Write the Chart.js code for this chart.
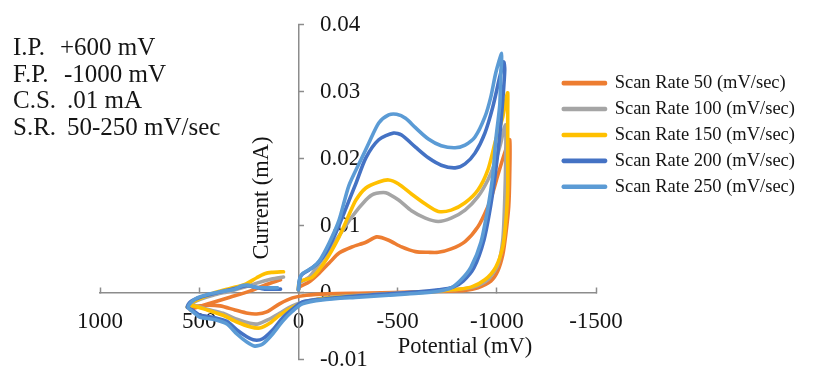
<!DOCTYPE html>
<html>
<head>
<meta charset="utf-8">
<script src="https://cdn.jsdelivr.net/npm/chart.js@4/dist/chart.umd.min.js"></script>
<style>
html,body{margin:0;padding:0;background:#ffffff;}
#wrap{width:815px;height:367px;position:relative;}
</style>
</head>
<body>
<div id="wrap"><canvas id="c"></canvas></div>
<script>
// ---------------- data (potential in mV, current in mA) ----------------
const seriesLabels = ['Scan Rate 50 (mV/sec)', 'Scan Rate 100 (mV/sec)', 'Scan Rate 150 (mV/sec)', 'Scan Rate 200 (mV/sec)', 'Scan Rate 250 (mV/sec)'];
const seriesColors = ['#ED7D31', '#A5A5A5', '#FFC000', '#4472C4', '#5B9BD5'];
const xTickValues = [1000, 500, 0, -500, -1000, -1500];
const yTickValues = [0.04, 0.03, 0.02, 0.01, 0, -0.01];
const noteLabels = ['I.P.', 'F.P.', 'C.S.', 'S.R.'];
const noteValues = ['+600 mV', '-1000 mV', '.01 mA', '50-250 mV/sec'];
const xTitle = 'Potential (mV)';
const yTitle = 'Current (mA)';

const pot50 = [90, 170, 245, 345, 445, 520, 545, 535, 470, 395, 320, 255, 210, 160, 95, 30, -40, -155, -355, -605, -755, -840, -905, -970, -1005, -1030, -1045, -1060, -1065, -1065, -1045, -1005, -980, -955, -905, -840, -770, -705, -655, -590, -520, -455, -395, -340, -270, -205, -155, -105, -55, -5, 0];
const cur50 = [0.0019, 0.0011, 0.0002, -0.0007, -0.0016, -0.0023, -0.0026, -0.0022, -0.0019, -0.002, -0.0026, -0.0031, -0.0032, -0.0029, -0.0017, -0.0008, -0.0004, -0.0002, -0.0001, 0.0001, 0.0002, 0.0003, 0.0007, 0.0017, 0.0032, 0.0056, 0.0086, 0.0128, 0.0175, 0.0228, 0.0213, 0.0175, 0.0149, 0.0128, 0.0098, 0.0076, 0.0065, 0.006, 0.006, 0.0061, 0.0068, 0.0078, 0.0083, 0.0075, 0.0068, 0.0059, 0.0044, 0.0029, 0.0016, 0.0008, 0.0004];

const pot100 = [75, 135, 210, 270, 345, 430, 495, 545, 560, 530, 460, 380, 310, 245, 205, 155, 95, 30, -40, -155, -305, -505, -655, -780, -880, -955, -1005, -1030, -1040, -1045, -1045, -1035, -1020, -990, -955, -905, -840, -770, -705, -640, -570, -505, -440, -380, -340, -270, -190, -120, -55, -5, 0];
const cur100 = [0.0023, 0.002, 0.0014, 0.0008, 0.0002, -0.0004, -0.001, -0.0017, -0.0022, -0.0019, -0.0025, -0.0031, -0.004, -0.0046, -0.0047, -0.0041, -0.0031, -0.002, -0.0013, -0.0007, -0.0004, -0.0001, 0.0001, 0.0004, 0.0008, 0.0019, 0.0041, 0.0078, 0.0138, 0.0198, 0.025, 0.0243, 0.0223, 0.0193, 0.0168, 0.0143, 0.0123, 0.0111, 0.0106, 0.0111, 0.0122, 0.0138, 0.0149, 0.0147, 0.0138, 0.0113, 0.0078, 0.0049, 0.0023, 0.0014, 0.0004];

const pot150 = [75, 135, 170, 210, 270, 345, 430, 495, 545, 560, 530, 460, 380, 310, 245, 195, 145, 95, 30, -40, -155, -305, -505, -655, -780, -870, -940, -995, -1030, -1045, -1055, -1055, -1055, -1055, -1045, -1030, -995, -955, -905, -840, -770, -705, -640, -570, -505, -455, -405, -340, -290, -255, -205, -140, -70, -5, 0];
const cur150 = [0.0031, 0.003, 0.0028, 0.0022, 0.0012, 0.0006, -0.0001, -0.0009, -0.0016, -0.0022, -0.002, -0.0026, -0.0034, -0.0044, -0.0051, -0.0053, -0.0046, -0.0034, -0.0022, -0.0014, -0.0008, -0.0005, -0.0002, 0.0001, 0.0004, 0.0008, 0.0019, 0.0038, 0.0068, 0.0104, 0.0153, 0.0213, 0.0272, 0.0298, 0.0287, 0.0262, 0.0228, 0.0183, 0.0153, 0.0134, 0.0123, 0.0121, 0.0132, 0.0147, 0.0162, 0.0168, 0.0165, 0.0156, 0.0138, 0.0116, 0.0083, 0.0049, 0.0023, 0.0016, 0.0004];

const pot200 = [90, 170, 220, 260, 295, 345, 420, 495, 545, 560, 535, 495, 430, 360, 310, 260, 220, 180, 130, 80, 30, -20, -120, -305, -455, -605, -705, -780, -830, -885, -935, -970, -995, -1015, -1030, -1040, -1035, -1015, -980, -940, -890, -840, -790, -720, -655, -590, -520, -480, -405, -340, -290, -240, -190, -140, -95, -55, -15, -5, 0];
const cur200 = [0.0005, 0.0005, 0.0008, 0.001, 0.0008, 0.0004, -0.0001, -0.0007, -0.0014, -0.0022, -0.0026, -0.0034, -0.0037, -0.0043, -0.0056, -0.0066, -0.0071, -0.0069, -0.0056, -0.0038, -0.0025, -0.0014, -0.001, -0.0005, -0.0002, 0.0001, 0.0004, 0.0008, 0.0017, 0.0037, 0.0078, 0.0131, 0.0183, 0.0235, 0.0287, 0.0332, 0.0344, 0.0322, 0.0277, 0.0238, 0.0208, 0.0192, 0.0186, 0.019, 0.0201, 0.0217, 0.0235, 0.0238, 0.0228, 0.0201, 0.0163, 0.0126, 0.009, 0.006, 0.0043, 0.0034, 0.0026, 0.0017, 0.0004];

const pot250 = [105, 170, 220, 255, 285, 320, 395, 470, 510, 545, 555, 535, 495, 430, 360, 310, 260, 220, 180, 130, 80, 30, -20, -120, -305, -455, -605, -705, -770, -820, -870, -920, -955, -980, -995, -1015, -1020, -1025, -995, -970, -940, -890, -840, -790, -720, -655, -590, -540, -495, -455, -405, -355, -320, -255, -205, -155, -105, -70, -20, -5, 0];
const cur250 = [0.0007, 0.0007, 0.0008, 0.0011, 0.001, 0.0005, 0.0001, -0.0004, -0.0008, -0.0016, -0.0023, -0.0028, -0.0037, -0.004, -0.0047, -0.0062, -0.0074, -0.008, -0.0077, -0.0062, -0.0043, -0.0028, -0.0017, -0.0011, -0.0007, -0.0004, -0.0001, 0.0002, 0.0007, 0.0019, 0.0038, 0.0075, 0.0126, 0.0175, 0.0228, 0.028, 0.0325, 0.0357, 0.0328, 0.0292, 0.0262, 0.0232, 0.022, 0.0216, 0.0219, 0.0229, 0.0246, 0.026, 0.0266, 0.0265, 0.0253, 0.0223, 0.0201, 0.016, 0.0108, 0.0074, 0.0047, 0.0037, 0.0028, 0.0019, 0.0004];

const potentials = [pot50, pot100, pot150, pot200, pot250];
const currents = [cur50, cur100, cur150, cur200, cur250];

// ---------------- chart ----------------
const SERIF = '"Liberation Serif", "Times New Roman", Times, serif';
const AXIS_GRAY = '#8c8c8c';
const TEXT = '#151515';

const fmtY = v => String(parseFloat(Number(v).toFixed(3)));

const textPlugin = {
  id: 'textPlugin',
  beforeDatasetsDraw(chart) {
    const ctx = chart.ctx;
    const xs = chart.scales.x, ys = chart.scales.y;
    ctx.save();
    ctx.fillStyle = TEXT;
    // y tick labels (right of the axis line)
    ctx.font = '23px ' + SERIF;
    ctx.textAlign = 'left';
    ctx.textBaseline = 'middle';
    const ax = xs.getPixelForValue(0);
    ys.ticks.forEach(t => ctx.fillText(fmtY(t.value), ax + 21.5, ys.getPixelForValue(t.value)));
    // axis titles
    ctx.font = '22.5px ' + SERIF;
    ctx.textAlign = 'center';
    ctx.textBaseline = 'alphabetic';
    ctx.fillText(xTitle, 465, 353);
    ctx.save();
    ctx.translate(262, 198);
    ctx.rotate(-Math.PI / 2);
    ctx.textBaseline = 'middle';
    ctx.fillText(yTitle, 0, 0);
    ctx.restore();
    // notes block
    ctx.font = '25px ' + SERIF;
    ctx.textAlign = 'left';
    const valX = [60, 64, 67, 67];
    const base = [55, 82, 108, 135];
    noteLabels.forEach((l, i) => {
      ctx.fillText(l, 13, base[i]);
      ctx.fillText(noteValues[i], valX[i], base[i]);
    });
    ctx.restore();
  },
  afterLayout(chart) {
    const L = chart.legend;
    if (L) {
      L.left = 556; L.right = 815; L.width = 259;
      L.top = 66.5; L.bottom = 367; L.height = 300.5;
    }
  }
};

const datasets = seriesLabels.map((label, i) => ({
  label,
  data: potentials[i].map((x, j) => ({ x, y: currents[i][j] })),
  borderColor: seriesColors[i],
  backgroundColor: seriesColors[i],
  borderWidth: 3.6,
  pointRadius: 0,
  pointHoverRadius: 0,
  showLine: true,
  tension: 0.25,
  borderJoinStyle: 'round',
  borderCapStyle: 'round',
  order: 5 - i
}));

new Chart(document.getElementById('c'), {
  type: 'scatter',
  data: { datasets },
  options: {
    responsive: true,
    maintainAspectRatio: false,
    animation: false,
    events: [],
    layout: { padding: { left: 100, right: 119, top: 24.5, bottom: 7.5 } },
    plugins: {
      tooltip: { enabled: false },
      legend: {
        position: 'right',
        align: 'start',
        maxWidth: 100,
        labels: {
          boxWidth: 42,
          boxHeight: 1,
          padding: 7.4,
          color: TEXT,
          font: { family: SERIF, size: 18.5 },
          sort: (a, b) => a.datasetIndex - b.datasetIndex
        }
      }
    },
    scales: {
      x: {
        type: 'linear',
        min: -1500, max: 1000,
        reverse: true,
        position: { y: 0 },
        afterFit: s => { s.height = 0; },
        afterBuildTicks: s => { s.ticks = xTickValues.map(v => ({ value: v })); },
        ticks: {
          callback: v => String(v),
          font: { family: SERIF, size: 23 },
          color: TEXT,
          padding: 22,
          maxRotation: 0, minRotation: 0,
          autoSkip: false
        },
        grid: { display: true, drawOnChartArea: false, drawTicks: true, tickLength: -6, tickColor: AXIS_GRAY, tickWidth: 1.5 },
        border: { display: true, color: AXIS_GRAY, width: 1.5 }
      },
      y: {
        type: 'linear',
        min: -0.01, max: 0.04,
        position: { x: 0 },
        afterFit: s => { s.width = 0; },
        afterBuildTicks: s => { s.ticks = yTickValues.map(v => ({ value: v })); },
        ticks: { display: false },
        grid: { display: true, drawOnChartArea: false, drawTicks: true, tickLength: -6, tickColor: AXIS_GRAY, tickWidth: 1.5 },
        border: { display: true, color: AXIS_GRAY, width: 1.5 }
      }
    }
  },
  plugins: [textPlugin]
});
</script>
</body>
</html>
